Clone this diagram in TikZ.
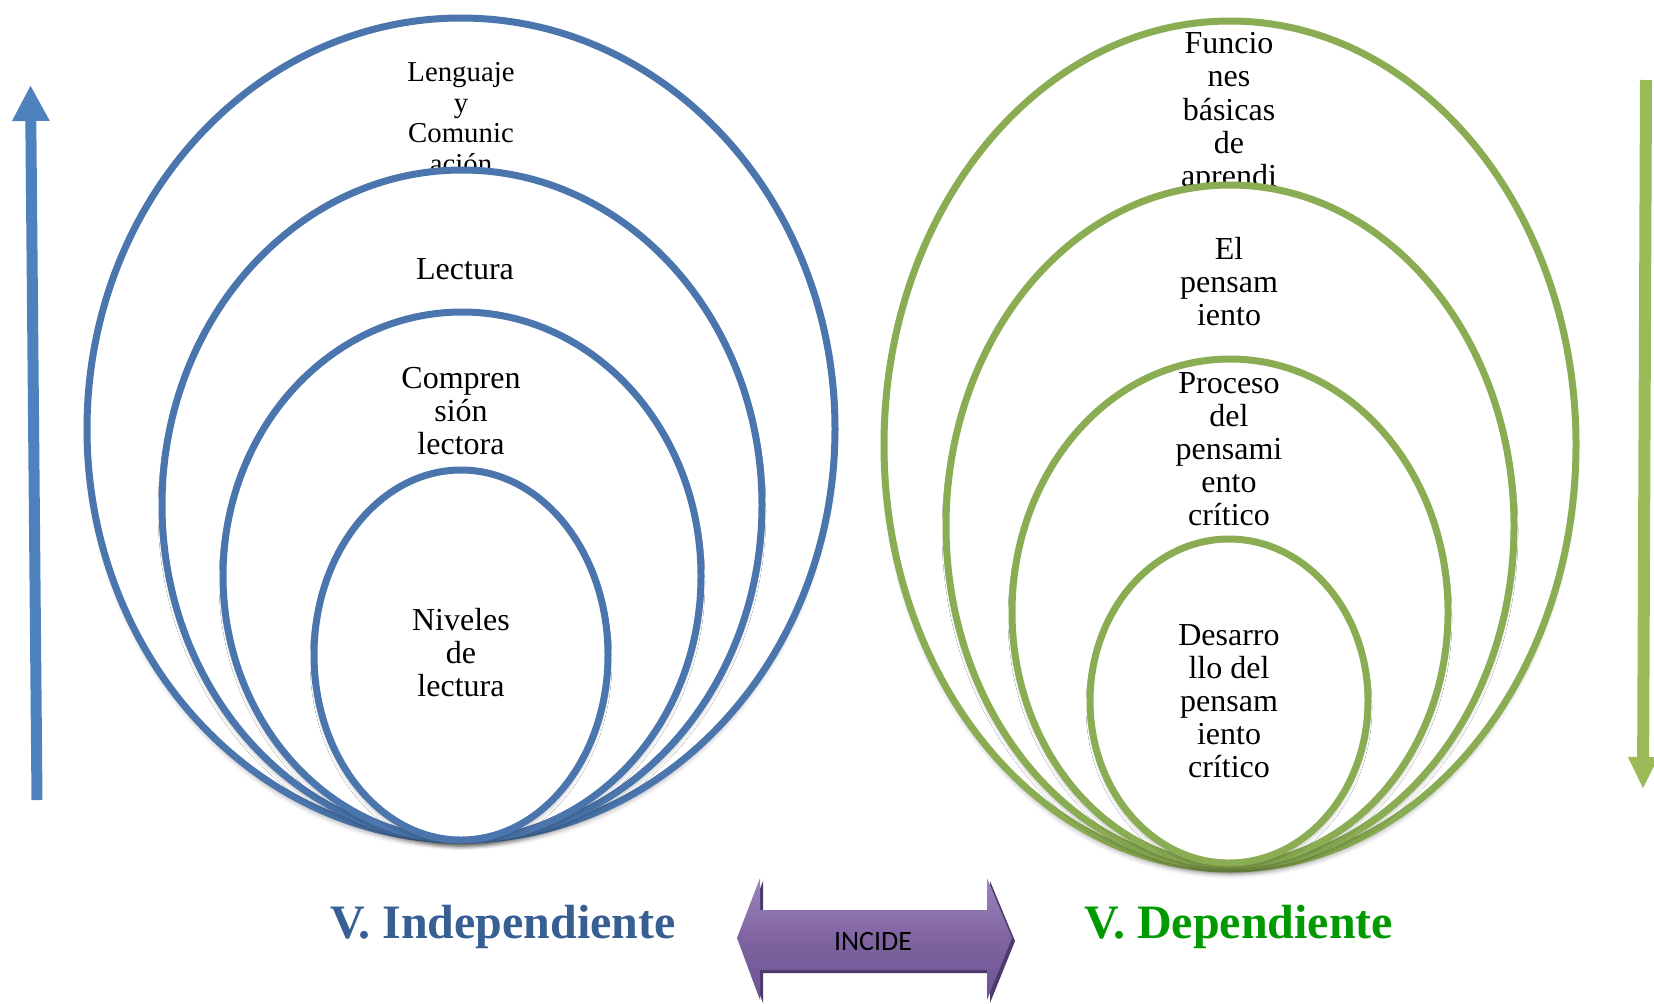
\documentclass[tikz,border=0pt]{standalone}
\usepackage{fontspec}
\setmainfont{Liberation Serif}
\newfontfamily\calibri{Carlito}
\usetikzlibrary{arrows.meta,shadows.blur}
\definecolor{ringblue}{HTML}{4A76AD}
\definecolor{ringgreen}{HTML}{8AAC52}
\definecolor{arrowblue}{HTML}{4F81BD}
\definecolor{arrowgreen}{HTML}{9BBB59}
\definecolor{titleblue}{HTML}{375F92}
\definecolor{titlegreen}{HTML}{009A00}
\definecolor{incidedark}{HTML}{4B3A6B}
\definecolor{incidetop}{HTML}{9B84BD}
\definecolor{incidemid}{HTML}{8064A2}
\definecolor{incidebot}{HTML}{6A5290}
\tikzset{
  ring/.style={line width=3.5pt, fill=white,
    blur shadow={shadow xshift=0pt, shadow yshift=-3pt, shadow blur radius=2pt, shadow opacity=25}},
  bluering/.style={ring, draw=ringblue},
  greenring/.style={ring, draw=ringgreen},
  ringtext/.style={align=center, inner sep=0pt, font=\fontsize{16}{16.5}\selectfont},
  smalltext/.style={font=\fontsize{14.4}{15.25}\selectfont},
  vartitle/.style={font=\fontsize{24}{26}\selectfont\bfseries, inner sep=0pt}
}

\begin{document}
\begin{tikzpicture}[x=0.5pt,y=-0.5pt]
    \useasboundingbox (0,0) rectangle (1654,1003);
    % variable independiente
    \draw[bluering] (461,429) ellipse [x radius=374, y radius=411];
    \node[ringtext, smalltext] (lenguaje) at (461,118) {Lenguaje\\y\\Comunic\\ación};
    \draw[bluering] (462,505) ellipse [x radius=300, y radius=335];
    \node[ringtext] (lectura) at (465,269) {Lectura};
    \draw[bluering] (462,576) ellipse [x radius=239, y radius=264];
    \node[ringtext] (comprension) at (461,411) {Compren\\sión\\lectora};
    \draw[bluering] (461,655) ellipse [x radius=147, y radius=185];
    \node[ringtext] (niveles) at (461,653) {Niveles\\de\\lectura};
    % variable dependiente
    \draw[greenring] (1230,445) ellipse [x radius=346, y radius=424];
    \node[ringtext, font=\fontsize{16}{16.7}\selectfont] (funciones) at (1229,113) {Funcio\\nes\\básicas\\de\\aprendi};
    \draw[greenring] (1230,526) ellipse [x radius=284, y radius=341];
    \node[ringtext] (pensamiento) at (1229,282) {El\\pensam\\iento};
    \draw[greenring] (1230,612) ellipse [x radius=218, y radius=253];
    \node[ringtext] (proceso) at (1229,449) {Proceso\\del\\pensami\\ento\\crítico};
    \draw[greenring] (1229,701) ellipse [x radius=139, y radius=162];
    \node[ringtext] (desarrollo) at (1229,701) {Desarro\\llo del\\pensam\\iento\\crítico};
    % flechas laterales
    \coordinate (upfoot) at (37,800);
    \coordinate (uptip) at (30.5,85);
    \draw[arrowblue, line width=5.5pt, -{Triangle[width=17.5pt, length=18pt]}] (upfoot) -- (uptip);
    \coordinate (downtop) at (1646,80);
    \coordinate (downtip) at (1643,789);
    \draw[arrowgreen, line width=6pt, -{Triangle[width=14pt, length=16pt]}] (downtop) -- (downtip);
    % titulos
    \node[vartitle, text=titleblue] (indep) at (503,927) {V. Independiente};
    \node[vartitle, text=titlegreen] (dep) at (1239,927) {V. Dependiente};
    % flecha doble
    \fill[incidedark] (740,941) -- (763,881) -- (763,913) -- (990,913) -- (990,881) -- (1015,941)
        -- (990,1003) -- (990,973) -- (763,973) -- (763,1003) -- cycle;
    \shade[top color=incidetop, bottom color=incidebot, middle color=incidemid]
        (737,938) -- (760,878) -- (760,910) -- (987,910) -- (987,878) -- (1012,938)
        -- (987,1000) -- (987,970) -- (760,970) -- (760,1000) -- cycle;
    \node[font=\calibri\fontsize{14}{16}\selectfont, inner sep=0pt] (incide) at (873,941) {INCIDE};
\end{tikzpicture}
\end{document}
